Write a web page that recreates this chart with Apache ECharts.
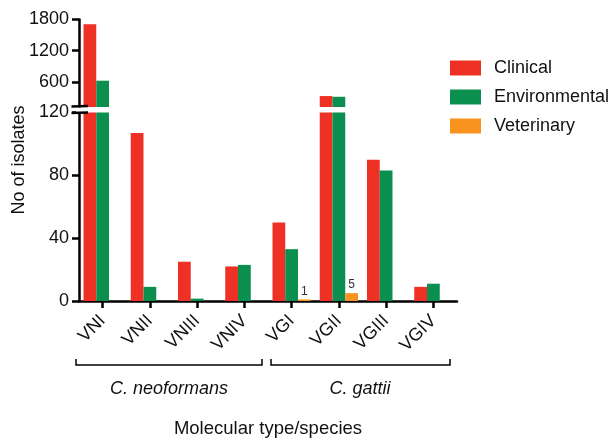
<!DOCTYPE html>
<html><head><meta charset="utf-8">
<script src="https://cdn.jsdelivr.net/npm/echarts@6/dist/echarts.min.js"></script>
<style>html,body{margin:0;padding:0;background:#fff}#c{width:616px;height:439px}</style>
</head><body><div id="c"></div>
<script>
var categories = ['VNI','VNII','VNIII','VNIV','VGI','VGII','VGIII','VGIV'];
var clinical = [1710, 107, 25, 22, 50, 330, 90, 9];
var environmental = [625, 9, 1.5, 23, 33, 316, 83, 11];
var veterinary = [0, 0, 0, 0, 1, 5, 0, 0];
var upperTicks = [600, 1200, 1800];
var lowerTicks = [0, 40, 80, 120];
var groups = ['C. neoformans', 'C. gattii'];

var RED = '#EE3124', GREEN = '#0B8F4F', ORANGE = '#F7931E';
var FONT = 'Liberation Sans, Arial, sans-serif';
var FS = 18;
var chart = echarts.init(document.getElementById('c'), null, {renderer:'canvas'});
var L = 79, W = 378;
var axisLine = {show:true, lineStyle:{color:'#000', width:2.5}};
var axisTick = {show:true, length:7, lineStyle:{color:'#000', width:2.5}};
function plain(v){ return String(v); }
function ser(name, data, color, xi, labels){
  return {
    name: name, type:'bar', xAxisIndex:xi, yAxisIndex:xi, data: data.map(function(v){
      var o = {value:v};
      if (labels && name==='Veterinary' && v>0) o.label = {show:true, position:'top', formatter:String(v), color:'#333', fontSize:12, fontFamily:FONT, distance:2};
      return o;
    }),
    itemStyle:{color:color}, barGap:'0%', barCategoryGap:'19%', clip:true,
    emphasis:{disabled:true}, silent:true, animation:false
  };
}
var option = {
  animation:false,
  textStyle:{fontFamily:FONT},
  grid:[
    {left:L, width:W, top:19.5, height:87.5},
    {left:L, width:W, top:112.5, height:188.5}
  ],
  xAxis:[
    {gridIndex:0, type:'category', data:categories, show:false},
    {gridIndex:1, type:'category', data:categories, axisLine:axisLine,
     axisTick:{show:true, alignWithLabel:true, length:7, lineStyle:{color:'#000', width:2.5}},
     axisLabel:{rotate:45, fontSize:FS, color:'#111', margin:17, fontFamily:FONT}}
  ],
  yAxis:[
    {gridIndex:0, type:'value', min:120, max:1800, splitLine:{show:false}, axisLine:axisLine,
     axisTick:{show:true, length:7, lineStyle:{color:'#000', width:2.5}, customValues:upperTicks},
     axisLabel:{fontSize:FS, color:'#111', margin:10, fontFamily:FONT, customValues:upperTicks, formatter:plain}},
    {gridIndex:1, type:'value', min:0, max:120, interval:40, splitLine:{show:false}, axisLine:axisLine,
     axisTick:axisTick,
     axisLabel:{fontSize:FS, color:'#111', margin:10, fontFamily:FONT, customValues:lowerTicks, formatter:plain}}
  ],
  legend:{
    orient:'vertical', left:450, top:59, padding:0, itemWidth:31, itemHeight:15, itemGap:11,
    icon:'rect', data:['Clinical','Environmental','Veterinary'],
    textStyle:{fontSize:FS, color:'#111', fontFamily:FONT, padding:[0,0,0,8]},
    selectedMode:false
  },
  series:[
    ser('Clinical', clinical, RED, 0), ser('Environmental', environmental, GREEN, 0), ser('Veterinary', veterinary, ORANGE, 0),
    ser('Clinical', clinical, RED, 1), ser('Environmental', environmental, GREEN, 1), ser('Veterinary', veterinary, ORANGE, 1, true)
  ],
  graphic:[
    {type:'rect', shape:{x:76, y:107.5, width:8, height:4.5}, style:{fill:'#fff'}, z:100},
    {type:'line', shape:{x1:71.5, y1:106.5, x2:88, y2:106}, style:{stroke:'#000', lineWidth:2.5}, z:101},
    {type:'line', shape:{x1:71.5, y1:113, x2:88, y2:112.5}, style:{stroke:'#000', lineWidth:2.5}, z:101},
    {type:'polyline', shape:{points:[[76,359],[76,365],[262,365],[262,359]]}, style:{stroke:'#000', lineWidth:1.5, fill:null}},
    {type:'polyline', shape:{points:[[271,359],[271,365],[450,365],[450,359]]}, style:{stroke:'#000', lineWidth:1.5, fill:null}},
    {type:'text', x:169, y:389, style:{text:groups[0], font:'italic 18px '+FONT, fill:'#111', textAlign:'center', textVerticalAlign:'middle'}},
    {type:'text', x:360, y:389, style:{text:groups[1], font:'italic 18px '+FONT, fill:'#111', textAlign:'center', textVerticalAlign:'middle'}},
    {type:'text', x:268, y:429, style:{text:'Molecular type/species', font:'18.5px '+FONT, fill:'#111', textAlign:'center', textVerticalAlign:'middle'}},
    {type:'text', x:19, y:160, rotation:Math.PI/2, style:{text:'No of isolates', font:'18px '+FONT, fill:'#111', textAlign:'center', textVerticalAlign:'middle'}}
  ]
};
chart.setOption(option);
</script></body></html>
